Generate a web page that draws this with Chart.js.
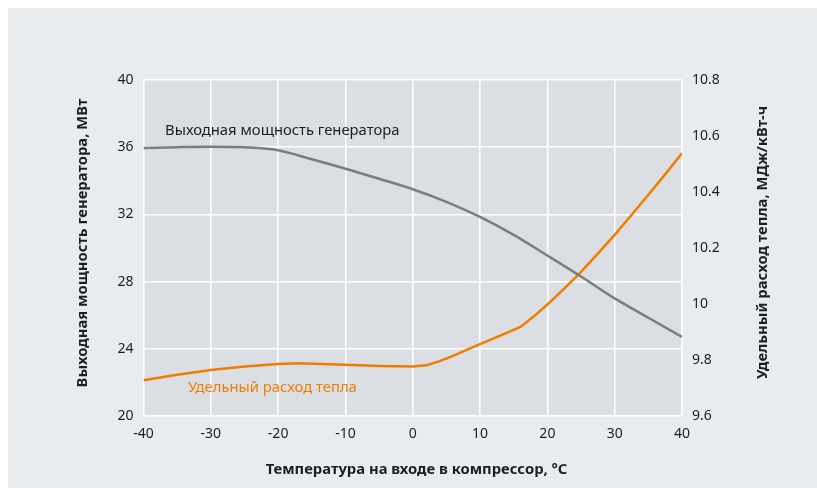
<!DOCTYPE html>
<html>
<head>
<meta charset="utf-8">
<script src="https://cdn.jsdelivr.net/npm/chart.js@4/dist/chart.umd.min.js"></script>
<style>
  html, body { margin: 0; padding: 0; background: #ffffff; }
  #wrap { position: absolute; left: 8px; top: 8px; width: 809px; height: 480px; background: #e8ecef; }
  canvas { display: block; }
</style>
</head>
<body>
<div id="wrap"><canvas id="c" width="809" height="480"></canvas></div>
<script>
// ---- data ----
const powerTemps = [-40, -35, -30, -25, -20, -15, -10, -5, 0, 5, 10, 15, 20, 25, 30, 35, 40];
const powerMW    = [35.95, 36.0, 36.03, 36.0, 35.82, 35.28, 34.72, 34.12, 33.5, 32.75, 31.85, 30.78, 29.55, 28.3, 27.0, 25.85, 24.7];

const heatTemps  = [-40, -35, -30, -25, -20, -17, -10, -5, 0, 2, 4, 6, 8, 10, 13, 16, 18, 20, 22.5, 25, 27.5, 30, 32.5, 35, 37.5, 40];
const heatRate   = [9.728, 9.747, 9.764, 9.777, 9.786, 9.788, 9.783, 9.779, 9.777, 9.781, 9.796, 9.815, 9.836, 9.857, 9.887, 9.918, 9.956, 9.998, 10.055, 10.115, 10.18, 10.247, 10.318, 10.39, 10.463, 10.538];

const xTitle      = 'Температура на входе в компрессор, °C';
const yLeftTitle  = 'Выходная мощность генератора, МВт';
const yRightTitle = 'Удельный расход тепла, МДж/кВт-ч';
const powerLabel  = 'Выходная мощность генератора';
const heatLabel   = 'Удельный расход тепла';

const FONT = "'Noto Sans', 'DejaVu Sans', sans-serif";
const TEXT = '#1e1e1e';
const GRAY = '#7d7d7d';
const ORANGE = '#ef7d00';

const bgPlugin = {
  id: 'bg',
  beforeDraw(chart) {
    const {ctx, chartArea: a} = chart;
    ctx.save();
    ctx.fillStyle = '#dbdfe3';
    ctx.fillRect(a.left, a.top, a.right - a.left, a.bottom - a.top);
    ctx.restore();
  }
};

const textPlugin = {
  id: 'texts',
  afterDraw(chart) {
    const {ctx, scales} = chart;
    ctx.save();
    ctx.fillStyle = TEXT;
    ctx.font = 'bold 14.8px ' + FONT;
    ctx.textAlign = 'center';
    ctx.textBaseline = 'middle';
    ctx.fillText(xTitle, 408.5, 462);
    ctx.save();
    ctx.translate(74.7, 235);
    ctx.rotate(-Math.PI / 2);
    ctx.fillText(yLeftTitle, 0, 0);
    ctx.restore();
    ctx.save();
    ctx.translate(754.7, 234.5);
    ctx.rotate(-Math.PI / 2);
    ctx.fillText(yRightTitle, 0, 0);
    ctx.restore();
    ctx.font = '14.8px ' + FONT;
    ctx.textAlign = 'left';
    ctx.fillStyle = TEXT;
    ctx.fillText(powerLabel, scales.x.getPixelForValue(-36.8), scales.y.getPixelForValue(36.96));
    ctx.fillStyle = ORANGE;
    ctx.fillText(heatLabel, scales.x.getPixelForValue(-33.4), scales.y.getPixelForValue(21.7));
    ctx.restore();
  }
};

new Chart(document.getElementById('c'), {
  type: 'line',
  data: {
    datasets: [
      {
        label: powerLabel,
        data: powerTemps.map((t, i) => ({x: t, y: powerMW[i]})),
        yAxisID: 'y',
        borderColor: GRAY,
        borderWidth: 2.5,
        pointRadius: 0,
        cubicInterpolationMode: 'monotone',
        fill: false
      },
      {
        label: heatLabel,
        data: heatTemps.map((t, i) => ({x: t, y: heatRate[i]})),
        yAxisID: 'y2',
        borderColor: ORANGE,
        borderWidth: 2.5,
        pointRadius: 0,
        tension: 0,
        fill: false
      }
    ]
  },
  options: {
    responsive: false,
    animation: false,
    layout: { padding: { top: 72, left: 0, right: 0, bottom: 0 } },
    plugins: { legend: { display: false }, tooltip: { enabled: false } },
    scales: {
      x: {
        type: 'linear', min: -40, max: 40,
        ticks: { stepSize: 10, color: TEXT, font: { family: FONT, size: 14 }, padding: 10, maxRotation: 0 },
        grid: { color: '#ffffff', lineWidth: 1.5, drawTicks: false },
        border: { display: false },
        afterFit(s) { s.height = 72; }
      },
      y: {
        position: 'left', min: 20, max: 40,
        ticks: { stepSize: 4, color: TEXT, font: { family: FONT, size: 14 }, padding: 10 },
        grid: { color: '#ffffff', lineWidth: 1.5, drawTicks: false },
        border: { display: false },
        afterFit(s) { s.width = 135.5; }
      },
      y2: {
        position: 'right', min: 9.6, max: 10.8,
        ticks: { stepSize: 0.2, color: TEXT, font: { family: FONT, size: 14 }, padding: 10,
                 callback: v => String(+Number(v).toFixed(1)) },
        grid: { display: false, drawTicks: false },
        border: { display: false },
        afterFit(s) { s.width = 135; }
      }
    }
  },
  plugins: [bgPlugin, textPlugin]
});
</script>
</body>
</html>
